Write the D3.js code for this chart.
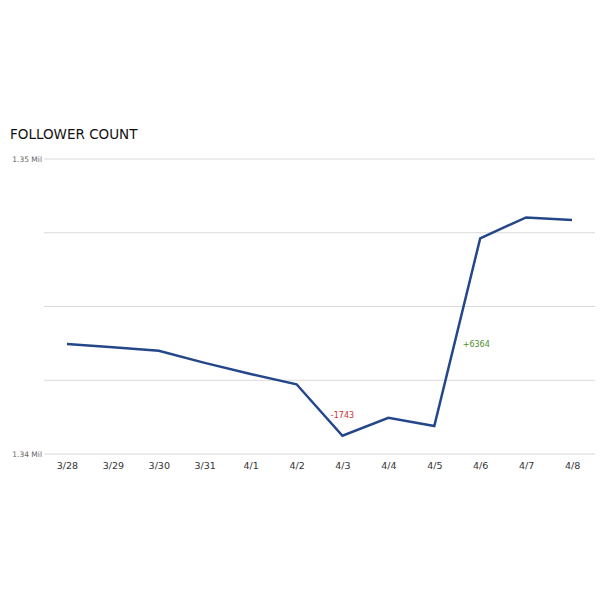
<!DOCTYPE html>
<html><head><meta charset="utf-8">
<script src="https://cdn.jsdelivr.net/npm/d3@7"></script>
<style>body{margin:0;background:#fff}</style>
</head><body><svg id="c" width="600" height="600"></svg>
<script>
const dates = ["3/28","3/29","3/30","3/31","4/1","4/2","4/3","4/4","4/5","4/6","4/7","4/8"];
const followers = [1343730,1343620,1343500,1343090,1342710,1342363,1340620,1341230,1340949,1347313,1348020,1347930];
const yTicks = [1340000,1342500,1345000,1347500,1350000];
const yTickLabels = {1340000:"1.34 Mil",1350000:"1.35 Mil"};
const notes = [{date:"4/3", text:"-1743", color:"#c8312f", dy:-18, dx:0},
               {date:"4/6", text:"+6364", color:"#4e8f2c", dy:109, dx:-4}];

(function(){
const svg = d3.select("#c");
const mL = 44, mR = 595, mT = 159, mB = 454;
const x = d3.scalePoint().domain(dates).range([mL, mR]).padding(0.5);
const y = d3.scaleLinear().domain([1340000,1350000]).range([mB, mT]);

svg.append("text").attr("x",10).attr("y",139).text("FOLLOWER COUNT")
  .attr("font-family","DejaVu Sans").attr("font-size",13.5).attr("fill","#111");

const g = svg.append("g");
g.selectAll("line.grid").data(yTicks).join("line").attr("class","grid")
  .attr("x1",mL).attr("x2",mR).attr("y1",d=>y(d)).attr("y2",d=>y(d))
  .attr("stroke","#d9d9d9").attr("stroke-width",1);
g.selectAll("text.yl").data(yTicks.filter(d=>yTickLabels[d])).join("text").attr("class","yl")
  .attr("x",42).attr("y",d=>y(d)+2.5).attr("text-anchor","end")
  .attr("font-family","DejaVu Sans").attr("font-size",7.5).attr("fill","#666")
  .text(d=>yTickLabels[d]);

const xAxis = svg.append("g").attr("transform",`translate(0,${mB})`)
  .call(d3.axisBottom(x).tickSize(0).tickPadding(8));
xAxis.select(".domain").remove();
xAxis.selectAll("text").attr("font-family","DejaVu Sans").attr("font-size",9.5).attr("fill","#333");

const line = d3.line().x((d,i)=>x(dates[i])).y(d=>y(d));
svg.append("path").datum(followers).attr("d",line)
  .attr("fill","none").attr("stroke","#24478a").attr("stroke-width",2.5).attr("stroke-linejoin","miter");

svg.selectAll("text.note").data(notes).join("text").attr("class","note")
  .attr("x",d=>x(d.date)+d.dx).attr("y",d=>y(followers[dates.indexOf(d.date)])+d.dy)
  .attr("text-anchor","middle").attr("font-family","DejaVu Sans").attr("font-size",8)
  .attr("fill",d=>d.color).text(d=>d.text);
})();
</script></body></html>
